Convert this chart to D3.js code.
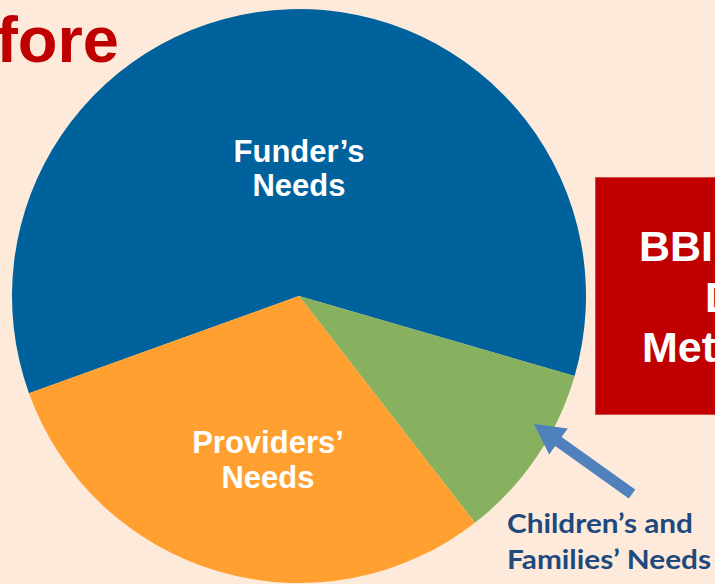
<!DOCTYPE html>
<html>
<head>
<meta charset="utf-8">
<script src="https://cdn.jsdelivr.net/npm/d3@7"></script>
<style>
  html, body { margin: 0; padding: 0; background: #FDEADA; overflow: hidden; }
  svg { display: block; }
</style>
</head>
<body>
<svg id="chart" width="715" height="584"></svg>
<script>
// ---- data ----
const categories = ["Funder\u2019s Needs", "Children\u2019s and Families\u2019 Needs", "Providers\u2019 Needs"];
const values = [60, 10, 30];
const sliceColors = ["#00629D", "#87B05F", "#FFA030"];
const sliceLabelLines = [["Funder\u2019s", "Needs"], [], ["Providers\u2019", "Needs"]];
const calloutLines = ["Children\u2019s and", "Families\u2019 Needs"];
const titleText = "Before";
const boxLines = ["BBI\u2019s", "Data-Driven", "Method"];

// ---- layout ----
const W = 715, H = 584;
const cx = 299, cy = 296, R = 287;
const svg = d3.select("#chart");

svg.append("rect").attr("width", W).attr("height", H).attr("fill", "#FDEADA");

// title (partially cut off on the left)
svg.append("text")
  .attr("x", 119).attr("y", 62)
  .attr("text-anchor", "end")
  .attr("font-family", "Liberation Sans, Arial, sans-serif")
  .attr("font-weight", "bold")
  .attr("font-size", 65)
  .attr("fill", "#C00000")
  .text(titleText);

// pie
const pie = d3.pie().sort(null).value(d => d)
  .startAngle(-109.8 * Math.PI / 180)
  .endAngle((360 - 109.8) * Math.PI / 180);
const arcs = pie(values);
const arc = d3.arc().innerRadius(0).outerRadius(R);
const g = svg.append("g").attr("transform", `translate(${cx},${cy})`);
g.selectAll("path.slice").data(arcs).enter().append("path")
  .attr("class", "slice")
  .attr("d", arc)
  .attr("fill", (d, i) => sliceColors[i]);

// slice labels (placed in polar terms relative to each slice's mid angle)
const labelRadius = [127, 0, 167];
const labelShift = [1.8, 0, -5.5];  // degrees shift from mid angle
const linePitch = [34, 0, 35];
arcs.forEach((d, i) => {
  const lines = sliceLabelLines[i];
  if (!lines.length) return;
  const a = (d.startAngle + d.endAngle) / 2 + labelShift[i] * Math.PI / 180;
  const x = Math.sin(a) * labelRadius[i];
  const y = -Math.cos(a) * labelRadius[i];
  const t = g.append("text")
    .attr("text-anchor", "middle")
    .attr("font-family", "Liberation Sans, Arial, sans-serif")
    .attr("font-weight", "bold")
    .attr("font-size", 31)
    .attr("fill", "#FFFFFF");
  lines.forEach((ln, k) => {
    t.append("tspan").attr("x", x)
      .attr("y", y + 10 + (k - (lines.length - 1) / 2) * linePitch[i])
      .text(ln);
  });
});

// red box on the right (cut off)
svg.append("rect")
  .attr("x", 595.5).attr("y", 177.5)
  .attr("width", 200).attr("height", 237)
  .attr("fill", "#C00000")
  .attr("stroke", "#D04848").attr("stroke-width", 1);
const boxX = [639, 705, 642];
const bt = svg.append("text")
  .attr("font-family", "Liberation Sans, Arial, sans-serif")
  .attr("font-weight", "bold")
  .attr("font-size", 43)
  .attr("fill", "#FFFFFF");
boxLines.forEach((ln, k) => {
  bt.append("tspan").attr("x", boxX[k]).attr("y", 261 + k * 50.5).text(ln);
});

// arrow pointing at the green slice
const tail = [632, 494], tip = [534, 424];
const dx = tip[0] - tail[0], dy = tip[1] - tail[1];
const L = Math.hypot(dx, dy), ux = dx / L, uy = dy / L, px = -uy, py = ux;
const headLen = 30, headHalf = 16, shaftHalf = 5.5;
const bx = tip[0] - ux * headLen, by = tip[1] - uy * headLen;
const pts = [
  [tail[0] + px * shaftHalf, tail[1] + py * shaftHalf],
  [bx + px * shaftHalf, by + py * shaftHalf],
  [bx + px * headHalf, by + py * headHalf],
  tip,
  [bx - px * headHalf, by - py * headHalf],
  [bx - px * shaftHalf, by - py * shaftHalf],
  [tail[0] - px * shaftHalf, tail[1] - py * shaftHalf]
];
svg.append("polygon")
  .attr("points", pts.map(p => p.join(",")).join(" "))
  .attr("fill", "#4F81BD");

// callout label
const ct = svg.append("text")
  .attr("font-family", "Lato, Carlito, sans-serif")
  .attr("font-weight", "bold")
  .attr("font-size", 27)
  .attr("fill", "#1F497D");
const calloutLen = [186, 204];
calloutLines.forEach((ln, k) => {
  ct.append("tspan").attr("x", 507).attr("y", 533 + k * 36)
    .attr("textLength", calloutLen[k]).attr("lengthAdjust", "spacingAndGlyphs")
    .text(ln);
});
</script>
</body>
</html>
